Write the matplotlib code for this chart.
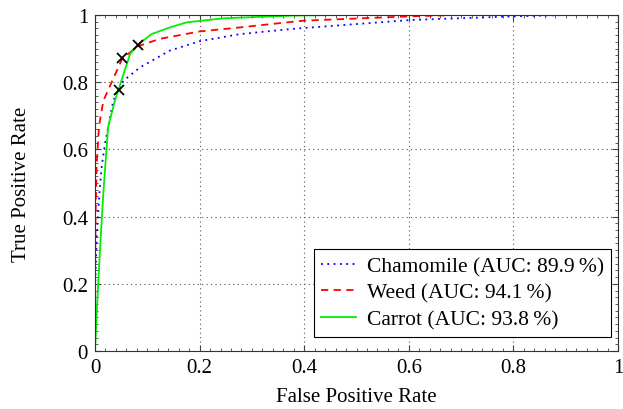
import numpy as np
import matplotlib.pyplot as plt
from matplotlib.ticker import MultipleLocator

plt.rcParams['font.family'] = ['Liberation Serif', 'DejaVu Serif']

# ROC curves (fpr, tpr)
chamomile_fpr = [0.0, 0.0, 0.003, 0.008, 0.013, 0.019, 0.035, 0.054, 0.086, 0.143, 0.2, 0.277, 0.373, 0.398, 0.602, 0.8, 0.9, 1.0]
chamomile_tpr = [0.0, 0.176, 0.333, 0.462, 0.552, 0.616, 0.745, 0.804, 0.844, 0.894, 0.922, 0.943, 0.958, 0.961, 0.985, 0.996, 1.0, 1.0]

weed_fpr = [0.0, 0.0, 0.001, 0.003, 0.0077, 0.016, 0.029, 0.052, 0.082, 0.124, 0.2, 0.277, 0.367, 0.398, 0.602, 0.69, 1.0]
weed_tpr = [0.0, 0.2, 0.40, 0.552, 0.670, 0.745, 0.79, 0.87, 0.907, 0.929, 0.951, 0.963, 0.978, 0.983, 0.996, 1.0, 1.0]

carrot_fpr = [0.0, 0.003, 0.0096, 0.016, 0.022, 0.025, 0.038, 0.045, 0.067, 0.084, 0.108, 0.143, 0.175, 0.245, 0.373, 0.45, 1.0]
carrot_tpr = [0.0, 0.105, 0.304, 0.472, 0.601, 0.666, 0.745, 0.778, 0.884, 0.914, 0.943, 0.963, 0.978, 0.990, 0.998, 1.0, 1.0]

# operating points
op_fpr = [0.045, 0.052, 0.083]
op_tpr = [0.778, 0.873, 0.911]

ticks = [0, 0.2, 0.4, 0.6, 0.8, 1.0]
tick_labels = ['0', '0.2', '0.4', '0.6', '0.8', '1']
labels = ['Chamomile (AUC: 89.9\u2009%)', 'Weed (AUC: 94.1\u2009%)', 'Carrot (AUC: 93.8\u2009%)']

fig = plt.figure(figsize=(6.23, 4.10), dpi=100)
ax = fig.add_axes([0.1525, 0.1415, 0.8395, 0.8195])

ax.plot(chamomile_fpr, chamomile_tpr, color='blue', linestyle=(0, (1, 2.5)), lw=1.3, label=labels[0])
ax.plot(weed_fpr, weed_tpr, color='red', linestyle=(0, (4, 3)), lw=1.3, label=labels[1])
ax.plot(carrot_fpr, carrot_tpr, color='#00ee00', linestyle='-', lw=1.3, label=labels[2])
ax.plot(op_fpr, op_tpr, 'x', color='black', ms=7, mew=1.3, zorder=5)

ax.set_xlim(0, 1)
ax.set_ylim(0, 1)
ax.set_xticks(ticks, tick_labels)
ax.set_yticks(ticks, tick_labels)
ax.xaxis.set_minor_locator(MultipleLocator(0.02))
ax.yaxis.set_minor_locator(MultipleLocator(0.02))
ax.tick_params(which='both', direction='in', top=True, right=True, labelsize=15, color='#444444')
ax.tick_params(which='major', length=4, pad=5)
ax.tick_params(which='minor', length=2)
ax.grid(True, which='major', linestyle=(0, (1, 3)), color='#555555', lw=0.8)
for s in ax.spines.values():
    s.set_color('#333333')

ax.set_xlabel('False Positive Rate', fontsize=15, labelpad=7)
ax.set_ylabel('True Positive Rate', fontsize=15, labelpad=22)

leg = ax.legend(loc='lower right', bbox_to_anchor=(0.987, 0.042), fontsize=15.5, frameon=True,
                fancybox=False, edgecolor='black', framealpha=1, handlelength=1.6,
                borderpad=0.35, labelspacing=0.3, handletextpad=0.5, borderaxespad=0)
leg.get_frame().set_linewidth(0.8)

fig.savefig('out.png', dpi=100)
